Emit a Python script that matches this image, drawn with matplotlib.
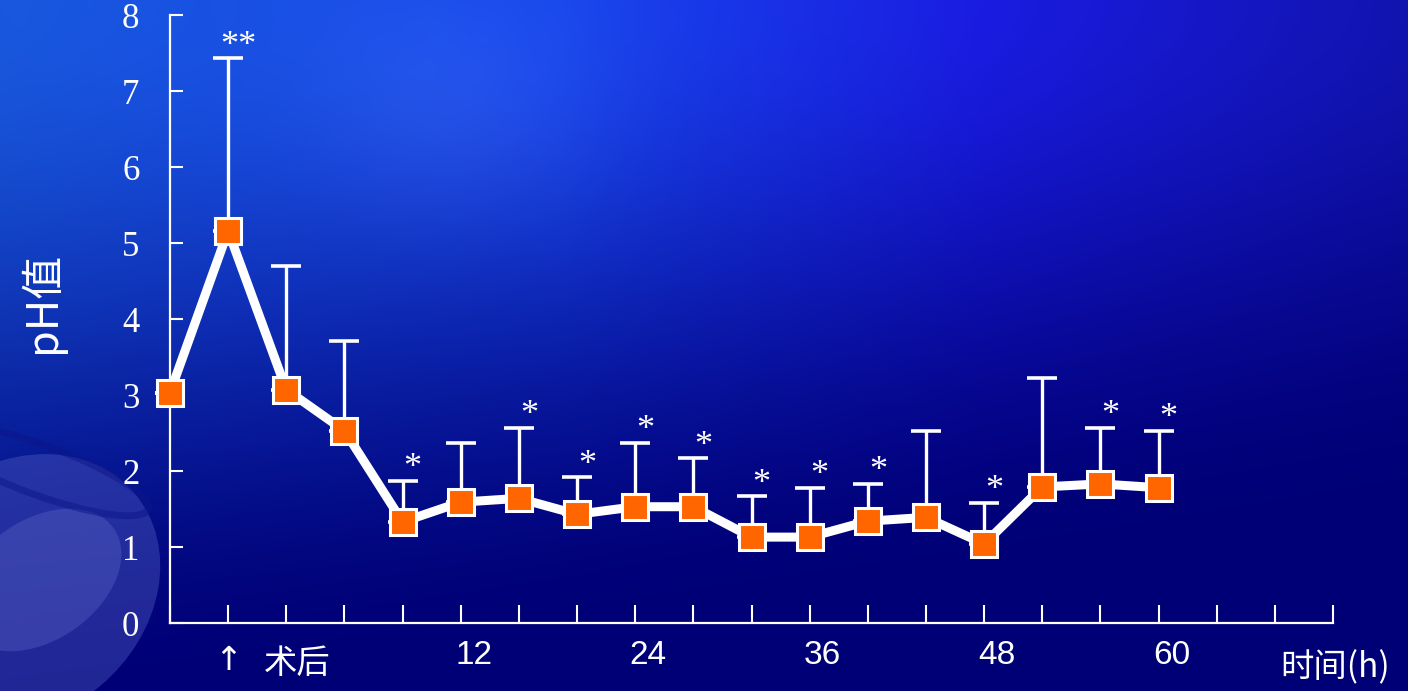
import numpy as np
import matplotlib
matplotlib.use("Agg")
import matplotlib.pyplot as plt
from matplotlib.patches import Ellipse
from matplotlib.ticker import FixedLocator

# pH values over time after surgery (mean, upper SD)
time_idx = np.arange(18)
ph_mean = [3.03, 5.16, 3.07, 2.53, 1.33, 1.59, 1.64, 1.43, 1.53,
           1.53, 1.13, 1.13, 1.34, 1.39, 1.04, 1.79, 1.83, 1.78]
ph_sd = [0.0, 2.27, 1.63, 1.18, 0.54, 0.78, 0.93, 0.49, 0.84,
         0.64, 0.54, 0.65, 0.49, 1.14, 0.54, 1.43, 0.74, 0.75]
signif = ['', '**', '', '', '*', '', '*', '*', '*',
          '*', '*', '*', '*', '', '*', '', '*', '*']

hour_labels = ['12', '24', '36', '48', '60']
hour_ticks = [5, 8, 11, 14, 17]
y_ticks = [0, 1, 2, 3, 4, 5, 6, 7, 8]

W, H = 1408, 691
cjk = ['Noto Sans CJK SC', 'DejaVu Sans']

fig = plt.figure(figsize=(W / 100, H / 100), dpi=100)

# ---- background gradient (slide template) ----
bg = fig.add_axes([0, 0, 1, 1])
xx = np.linspace(0, 1, W)[None, :]
yy = np.linspace(0, 1, H)[:, None]
top_stops = np.array([[25, 88, 222], [24, 70, 235], [26, 28, 225], [18, 20, 175]]) / 255
stop_x = np.array([0.0, 0.4, 0.7, 1.0])
top = np.stack([np.interp(xx[0], stop_x, top_stops[:, c]) for c in range(3)], axis=-1)[None, :, :]
bottom = np.array([0, 0, 118]) / 255
L = 1.05 - 0.3 * xx
t = np.clip(yy / L, 0, 1)
t = t * t * (3 - 2 * t)
img = top * (1 - t[..., None]) + bottom * t[..., None]
# soft light band upper middle
blob = np.exp(-(((xx * W - 450) / 140) ** 2 + ((yy * H - 110) / 120) ** 2))
img = img + blob[..., None] * np.array([0.05, 0.05, 0.03])
img = np.clip(img, 0, 1)
bg.imshow(img, extent=[0, W, H, 0], aspect='auto', zorder=0)
# wing decoration bottom-left
bg.add_patch(Ellipse((20, 590), 300, 250, angle=-40, color='#4b56bc', alpha=0.45, lw=0, zorder=1))
bg.add_patch(Ellipse((40, 580), 180, 120, angle=-35, color='#6a74d4', alpha=0.3, lw=0, zorder=1))
bg.add_patch(Ellipse((40, 470), 230, 50, angle=20, fill=False, ec='#0c168a', lw=5, alpha=0.5, zorder=1))
bg.set_xlim(0, W)
bg.set_ylim(H, 0)
bg.axis('off')

# ---- main chart ----
ax = fig.add_axes([170 / W, 1 - 623 / H, 1163 / W, 608 / H])
ax.set_facecolor('none')

ax.errorbar(time_idx, ph_mean, yerr=[np.zeros(len(ph_sd)), ph_sd], fmt='none',
            ecolor='white', elinewidth=2.4, capsize=10.5, capthick=2.6, zorder=2, clip_on=False)
ax.plot(time_idx, ph_mean, color='white', lw=6.5, zorder=3, clip_on=False)
ax.plot(time_idx, ph_mean, 's', ms=18.5, mfc='#ff6600', mec='white', mew=2.2, zorder=4, clip_on=False)

for i, s in enumerate(signif):
    if s:
        ax.annotate(s, (time_idx[i], ph_mean[i] + ph_sd[i]), xytext=(10, 12),
                    textcoords='offset pixels', ha='center', va='center',
                    color='white', fontsize=26, family='Liberation Serif', zorder=5)

ax.set_xlim(0, 20)
ax.set_ylim(0, 8)
for sp in ['top', 'right']:
    ax.spines[sp].set_visible(False)
for sp in ['left', 'bottom']:
    ax.spines[sp].set_color('white')
    ax.spines[sp].set_linewidth(1.6)

ax.set_xticks(np.arange(21))
ax.set_xticklabels([])
ax.tick_params(axis='x', direction='in', length=13, width=1.5, color='white')
ax.set_yticks(y_ticks)
ax.set_yticklabels([str(v) for v in y_ticks], family='Liberation Serif', fontsize=25, color='white')
ax.tick_params(axis='y', direction='in', length=9, width=1.5, color='white', pad=22)
ax.yaxis.set_minor_locator(FixedLocator([5]))
ax.tick_params(axis='y', which='minor', direction='inout', length=21, width=1.7, color='white')

for lbl, pos in zip(hour_labels, hour_ticks):
    ax.annotate(lbl, (pos, 0), xytext=(13, -32), textcoords='offset pixels',
                ha='center', va='center', color='white', fontsize=24, family='Liberation Sans')

ax.annotate('↑', (1, 0), xytext=(0, -37), textcoords='offset pixels', ha='center', va='center',
            color='white', fontsize=24, family='DejaVu Sans')
ax.annotate('术后', (2, 0), xytext=(11, -40), textcoords='offset pixels', ha='center', va='center',
            color='white', fontsize=24, family=cjk)
fig.text(1335 / W, 1 - 668 / H, '时间(h)', ha='center', va='center', color='white',
         fontsize=24, family=cjk)
fig.text(42 / W, 1 - 302 / H, 'pH值', ha='center', va='center', rotation=90, color='white',
         fontsize=31, family=cjk)

fig.savefig('out.png', dpi=100)
